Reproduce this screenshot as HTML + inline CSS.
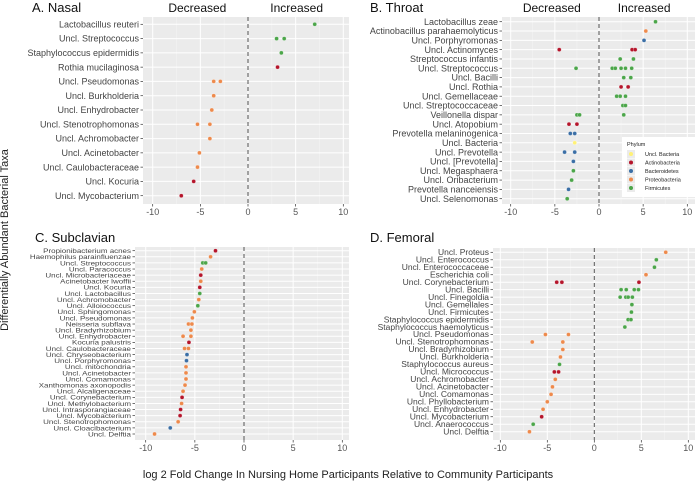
<!DOCTYPE html>
<html><head><meta charset="utf-8">
<style>
body{margin:0;background:#fff;width:696px;height:482px;overflow:hidden;font-family:"Liberation Sans",Arial,sans-serif;}
svg text{font-family:"Liberation Sans",Arial,sans-serif;}
</style></head>
<body>
<svg id="chart" width="696" height="482" viewBox="0 0 696 482" xmlns="http://www.w3.org/2000/svg">
<text x="8" y="240" transform="rotate(-90 8 240)" text-anchor="middle" font-size="11" fill="#222">Differentially Abundant Bacterial Taxa</text>
<text x="348" y="478" text-anchor="middle" font-size="11" fill="#222">log 2 Fold Change In Nursing Home Participants Relative to Community Participants</text>
</svg>
<script>
const phylumNames = ["Uncl. Bacteria","Actinobacteria","Bacteroidetes","Proteobacteria","Firmicutes"];
const phylumColors = {Y:"#FFF176",R:"#B5152B",B:"#3B6FA6",O:"#EE8A4C",G:"#4CA64A"};
const xTicks = [-10,-5,0,5,10];

const aTaxa = ["Lactobacillus reuteri","Uncl. Streptococcus","Staphylococcus epidermidis","Rothia mucilaginosa","Uncl. Pseudomonas","Uncl. Burkholderia","Uncl. Enhydrobacter","Uncl. Stenotrophomonas","Uncl. Achromobacter","Uncl. Acinetobacter","Uncl. Caulobacteraceae","Uncl. Kocuria","Uncl. Mycobacterium"];
const aValues = [[7],[3.0,3.8],[3.5],[3.1],[-3.6,-2.9],[-3.6],[-3.8],[-5.3,-4.0],[-4.0],[-5.1],[-5.3],[-5.7],[-7]];
const aPhylum = ["G","G","G","R","O","O","O","O","O","O","O","R","R"];

const bTaxa = ["Lactobacillus zeae","Actinobacillus parahaemolyticus","Uncl. Porphyromonas","Uncl. Actinomyces","Streptococcus infantis","Uncl. Streptococcus","Uncl. Bacilli","Uncl. Rothia","Uncl. Gemellaceae","Uncl. Streptococcaceae","Veillonella dispar","Uncl. Atopobium","Prevotella melaninogenica","Uncl. Bacteria","Uncl. Prevotella","Uncl. [Prevotella]","Uncl. Megasphaera","Uncl. Oribacterium","Prevotella nanceiensis","Uncl. Selenomonas"];
const bValues = [[6.4],[5.3],[5.1],[-4.5,3.75,4.1],[2.4,3.9],[-2.6,1.5,1.85,2.5,3.0,3.7],[2.8,3.6],[2.5,3.3],[2.0,2.4,3.0],[2.7,3.0],[-2.5,-2.2,2.8],[-3.4,-2.5],[-3.25,-2.75],[-2.75],[-3.9,-2.75],[-2.9],[-2.9],[-3.1],[-3.45],[-3.6]];
const bPhylum = ["G","O","B","R","G","G","G","R","G","G","G","R","B","Y","B","B","G","G","B","G"];

const cTaxa = ["Propionibacterium acnes","Haemophilus parainfluenzae","Uncl. Streptococcus","Uncl. Paracoccus","Uncl. Microbacteriaceae","Acinetobacter lwoffii","Uncl. Kocuria","Uncl. Lactobacillus","Uncl. Achromobacter","Uncl. Alloiococcus","Uncl. Sphingomonas","Uncl. Pseudomonas","Neisseria subflava","Uncl. Bradyrhizobium","Uncl. Enhydrobacter","Kocuria palustris","Uncl. Caulobacteraceae","Uncl. Chryseobacterium","Uncl. Porphyromonas","Uncl. mitochondria","Uncl. Acinetobacter","Uncl. Comamonas","Xanthomonas axonopodis","Uncl. Alcaligenaceae","Uncl. Corynebacterium","Uncl. Methylobacterium","Uncl. Intrasporangiaceae","Uncl. Mycobacterium","Uncl. Stenotrophomonas","Uncl. Cloacibacterium","Uncl. Delftia"];
const cValues = [[-2.9],[-3.4],[-4.2,-3.9],[-4.3],[-4.4],[-4.4],[-4.5],[-4.5],[-4.6],[-4.7],[-5.05],[-5.25],[-5.65,-5.3],[-5.4],[-6.2,-5.4],[-5.6],[-6.05,-5.65],[-5.8],[-5.85],[-5.9],[-5.9],[-5.9],[-6.0],[-6.2],[-6.3],[-6.35],[-6.45],[-6.5],[-6.7],[-7.5],[-9.1]];
const cPhylum = ["R","O","G","O","R","O","R","G","O","G","O","O","O","O","O","R","O","B","B","O","O","O","O","O","R","O","R","R","O","B","O"];

const dTaxa = ["Uncl. Proteus","Uncl. Enterococcus","Uncl. Enterococcaceae","Escherichia coli","Uncl. Corynebacterium","Uncl. Bacilli","Uncl. Finegoldia","Uncl. Gemellales","Uncl. Firmicutes","Staphylococcus epidermidis","Staphylococcus haemolyticus","Uncl. Pseudomonas","Uncl. Stenotrophomonas","Uncl. Bradyrhizobium","Uncl. Burkholderia","Staphylococcus aureus","Uncl. Micrococcus","Uncl. Achromobacter","Uncl. Acinetobacter","Uncl. Comamonas","Uncl. Phyllobacterium","Uncl. Enhydrobacter","Uncl. Mycobacterium","Uncl. Anaerococcus","Uncl. Delftia"];
const dValues = [[7.6],[6.6],[6.4],[5.5],[-4.0,-3.45,4.75],[2.85,3.4,4.25,4.7],[2.75,3.35,3.6,4.05],[4.0],[3.95],[3.6,3.9],[3.25],[-5.2,-2.75],[-6.6,-3.35],[-3.35],[-3.6],[-3.7],[-4.25,-3.8],[-4.15],[-4.45],[-4.6],[-5.0],[-5.45],[-5.6],[-6.5],[-6.9]];
const dPhylum = ["O","G","G","O","R","G","G","G","G","G","G","O","O","O","O","G","R","O","O","O","O","O","R","G","O"];

const svg = document.getElementById('chart');
const NS = "http://www.w3.org/2000/svg";
function mk(tag, attrs, parent){const e=document.createElementNS(NS,tag);for(const k in attrs)e.setAttribute(k,attrs[k]);(parent||svg).appendChild(e);return e;}

function panel(cfg, taxa, values, phylum){
  const g = mk('g',{});
  
  
  const xs = v => cfg.x0 + (v - (-10)) * (cfg.x10 - cfg.x0) / 20;
  const n = taxa.length;
  const step = (cfg.yLast - cfg.yFirst) / (n - 1);
  const ys = i => cfg.yFirst + i * step;
  const bg = mk('rect',{x:cfg.left,y:cfg.top,width:cfg.right-cfg.left,height:cfg.bottom-cfg.top,fill:"#EBEBEB"},g);
  
  
  [-7.5,-2.5,2.5,7.5].forEach(v=>mk('line',{x1:xs(v),x2:xs(v),y1:cfg.top,y2:cfg.bottom,stroke:"#F5F5F5","stroke-width":0.5},g));
  xTicks.forEach(v=>mk('line',{x1:xs(v),x2:xs(v),y1:cfg.top,y2:cfg.bottom,stroke:"#fff","stroke-width":1},g));
  taxa.forEach((t,i)=>mk('line',{x1:cfg.left,x2:cfg.right,y1:ys(i),y2:ys(i),stroke:"#fff","stroke-width":1},g));
  mk('line',{x1:xs(0),x2:xs(0),y1:cfg.top,y2:cfg.bottom,stroke:"#555","stroke-width":1,"stroke-dasharray":"4,3"},g);
  xTicks.forEach(v=>{
    mk('line',{x1:xs(v),x2:xs(v),y1:cfg.bottom,y2:cfg.bottom+2.5,stroke:"#333","stroke-width":0.7},g);
    const t=mk('text',{x:xs(v),y:cfg.bottom+11,"text-anchor":"middle","font-size":9,fill:"#555"},g);
    t.textContent = v;
    
    
  });
  taxa.forEach((name,i)=>{
    mk('line',{x1:cfg.left-2.5,x2:cfg.left,y1:ys(i),y2:ys(i),stroke:"#333","stroke-width":0.7},g);
    const t=mk('text',{x:cfg.left-4,y:ys(i)+cfg.fs*0.35,"text-anchor":"end","font-size":cfg.fs,fill:"#444"},g);
    if(cfg.stretch) t.setAttribute('transform',`translate(0 ${ys(i)}) scale(1 ${cfg.stretch}) translate(0 ${-ys(i)})`);
    t.textContent = name;
    
    
    values[i].forEach(v=>{
      const c=mk('circle',{cx:xs(v),cy:ys(i),r:cfg.r,fill:phylumColors[phylum[i]],stroke:"rgba(255,255,255,0.5)","stroke-width":0.6},g);
      
      
    });
  });
  const tt=mk('text',{x:cfg.titleX,y:cfg.titleY,"font-size":13,fill:"#111"},g);
  tt.textContent = cfg.title;
  
  
  if(cfg.labelsY){
    const d=mk('text',{x:xs(-5)-3,y:cfg.labelsY,"text-anchor":"middle","font-size":12,fill:"#111"},g);
    d.textContent="Decreased";
    
    
    const inc=mk('text',{x:xs(5)+1,y:cfg.labelsY,"text-anchor":"middle","font-size":12,fill:"#111"},g);
    inc.textContent="Increased";
    
    
  }
}

panel({name:"nasal-panel",title:"A. Nasal",titleX:32,titleY:12,labelsY:12,left:143,right:349,top:17,bottom:204,x0:152.7,x10:343.3,yFirst:24.3,yLast:195.7,fs:9,r:2},aTaxa,aValues,aPhylum);
panel({name:"throat-panel",title:"B. Throat",titleX:370,titleY:12,labelsY:12,left:502,right:695,top:17,bottom:204,x0:510.7,x10:687.3,yFirst:21.7,yLast:198.7,fs:9,r:2},bTaxa,bValues,bPhylum);
panel({name:"subclavian-panel",title:"C. Subclavian",titleX:35,titleY:242,left:135,right:349,top:247,bottom:440,x0:145.7,x10:342.3,yFirst:250.7,yLast:434,fs:8,stretch:0.85,r:2},cTaxa,cValues,cPhylum);
panel({name:"femoral-panel",title:"D. Femoral",titleX:370,titleY:242,left:493,right:695,top:248,bottom:440,x0:500.3,x10:688.3,yFirst:252.3,yLast:431.7,fs:8.5,stretch:0.92,r:2},dTaxa,dValues,dPhylum);

// legend
const lg = mk('g',{});


mk('rect',{x:622,y:137,width:73,height:60,fill:"#fff"},lg);
const lt=mk('text',{x:627,y:146,"font-size":5.5,fill:"#222"},lg);
lt.textContent="Phylum";


const legendKeys=["Y","R","B","O","G"];
phylumNames.forEach((nm,i)=>{
  const y=154+i*8.5;
  mk('rect',{x:627,y:y-4,width:8,height:8,fill:"#EBEBEB"},lg);
  const c=mk('circle',{cx:631,cy:y,r:2,fill:phylumColors[legendKeys[i]]},lg);
  
  
  const t=mk('text',{x:645,y:y+2,"font-size":5.5,fill:"#222"},lg);
  t.textContent=nm;
  
  
});
</script>
</body></html>
